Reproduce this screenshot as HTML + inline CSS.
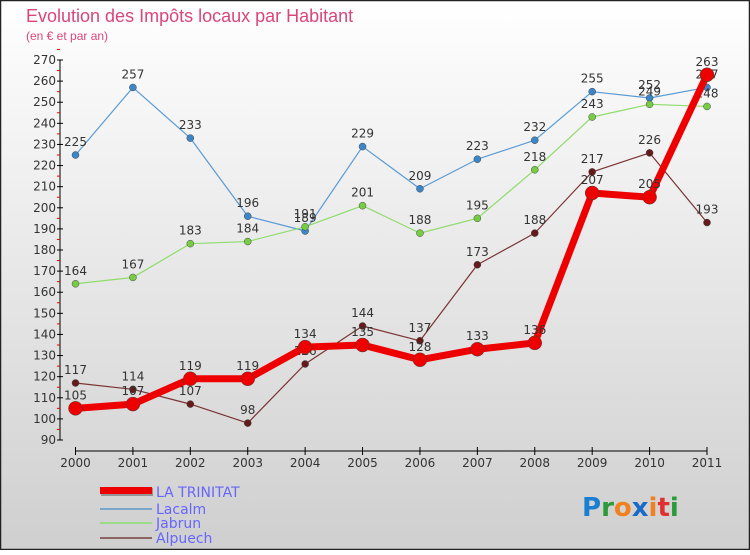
<!DOCTYPE html>
<html><head><meta charset="utf-8"><style>
body{margin:0;width:750px;height:550px;overflow:hidden;font-family:"Liberation Sans",sans-serif}
svg text{font-family:"DejaVu Sans","Liberation Sans",sans-serif}
</style></head><body>
<svg id="c" width="750" height="550" xmlns="http://www.w3.org/2000/svg">
<defs><linearGradient id="bg" x1="0" y1="0" x2="0" y2="1"><stop offset="0" stop-color="#ffffff"/><stop offset="1" stop-color="#cfcfcf"/></linearGradient></defs>
<rect x="0.5" y="0.5" width="749" height="549" fill="url(#bg)" stroke="#222" stroke-width="1.5"/>
<text x="26" y="22" font-size="18" fill="#d9467a" style="font-family:'Liberation Sans',sans-serif">Evolution des Impôts locaux par Habitant</text>
<text x="26" y="40" font-size="12" fill="#d9467a" style="font-family:'Liberation Sans',sans-serif">(en € et par an)</text>
<g id="axes"></g><g id="series"></g>
<g>
<rect x="101" y="488" width="52" height="8" fill="#555" opacity="0.5"/><rect x="100" y="487" width="52" height="7" fill="#ee0000"/>
<text x="156" y="497" font-size="14" fill="#6666ff">LA TRINITAT</text>
<rect x="100" y="508" width="52" height="2" fill="#7aa6cc"/><text x="156" y="514" font-size="14" fill="#6666ff">Lacalm</text>
<rect x="100" y="522" width="52" height="2" fill="#99dd88"/><text x="156" y="528" font-size="14" fill="#6666ff">Jabrun</text>
<rect x="100" y="537" width="52" height="2" fill="#8b6464"/><text x="156" y="543" font-size="14" fill="#6666ff">Alpuech</text>
</g>
<g font-size="26" font-weight="bold" style="font-family:'Liberation Sans',sans-serif">
<text x="582" y="516"><tspan fill="#1a7fd0">P</tspan><tspan fill="#2a9a3a">r</tspan><tspan fill="#f08020">o</tspan><tspan fill="#1a6ac8">x</tspan><tspan fill="#f08020">i</tspan><tspan fill="#e03030">t</tspan><tspan fill="#2a9a3a">i</tspan></text>
</g>
</svg>
<script>
const years=["2000","2001","2002","2003","2004","2005","2006","2007","2008","2009","2010","2011"];
const trinitat=[105,107,119,119,134,135,128,133,136,207,205,263];
const lacalm=[225,257,233,196,189,229,209,223,232,255,252,257];
const jabrun=[164,167,183,184,191,201,188,195,218,243,249,248];
const alpuech=[117,114,107,98,126,144,137,173,188,217,226,193];
const yTicks=[90,100,110,120,130,140,150,160,170,180,190,200,210,220,230,240,250,260,270];
const NS="http://www.w3.org/2000/svg";
const x=i=>75.5+i*(707-75.5)/11;
const y=v=>440-(v-90)*(380/180);
function mk(t,a,p){const e=document.createElementNS(NS,t);for(const k in a)e.setAttribute(k,a[k]);p.appendChild(e);return e;}
const ax=document.getElementById('axes');
mk('line',{x1:60,y1:60,x2:60,y2:440,stroke:'#000'},ax);
yTicks.forEach(v=>{mk('line',{x1:57,x2:63,y1:y(v),y2:y(v),stroke:'#000'},ax);
 mk('line',{x1:57,x2:60,y1:y(v+5),y2:y(v+5),stroke:'#e00'},ax);
 const t=mk('text',{x:56,y:y(v)+4,'font-size':12,'text-anchor':'end',fill:'#333'},ax);
 t.textContent=v;});
mk('line',{x1:75.5,x2:707,y1:451,y2:451,stroke:'#000'},ax);
years.forEach((yr,i)=>{mk('line',{x1:x(i),x2:x(i),y1:447,y2:455,stroke:'#000'},ax);
 const t=mk('text',{x:x(i),y:467,'font-size':12,'text-anchor':'middle',fill:'#333'},ax);
 t.textContent=yr;});
const sg=document.getElementById('series');
function draw(name,vals,col,dot,w,r){const g=mk('g',{},sg);
 
 mk('polyline',{points:vals.map((v,i)=>x(i)+','+y(v)).join(' '),fill:'none',stroke:col,'stroke-width':w,'stroke-linejoin':'round'},g);
 vals.forEach((v,i)=>{const c=mk('circle',{cx:x(i),cy:y(v),r:r,fill:dot,stroke:'#444','stroke-width':0.5},g);
 
 const t=mk('text',{x:x(i),y:y(v)-9,'font-size':12,'text-anchor':'middle',fill:'#333'},g);
 t.textContent=v;});}
draw('lacalm-series',lacalm,'#5b9bd5','#3a86c8',1.2,3.5);
draw('jabrun-series',jabrun,'#8edc6a','#77cc44',1.2,3.5);
draw('alpuech-series',alpuech,'#7a3333','#661a1a',1.2,3.5);
draw('la-trinitat-series',trinitat,'#ee0000','#ee0000',7,7);
</script>
</body></html>
